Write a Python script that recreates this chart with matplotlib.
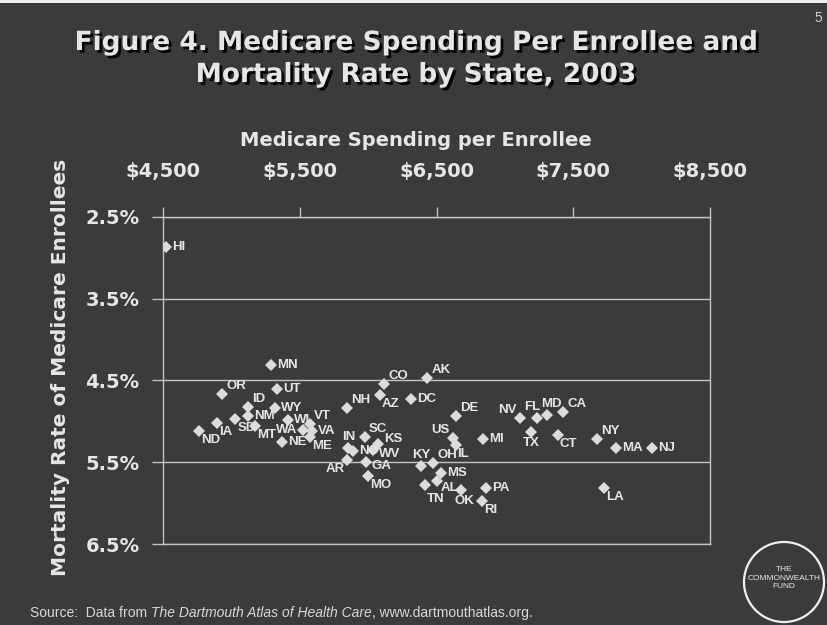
import matplotlib
matplotlib.use("Agg")
import matplotlib.pyplot as plt
import matplotlib.patheffects as pe
from matplotlib.patches import Circle, Rectangle

# Medicare spending per enrollee ($) and mortality rate (%) by state, 2003
states = ["HI", "MN", "OR", "UT", "ID", "WY", "NM", "SD", "IA", "ND",
          "MT", "WI", "WA", "VT", "VA", "NE", "ME", "NH", "CO", "AK",
          "AZ", "DC", "IN", "NC", "SC", "KS", "WV", "GA", "AR", "MO",
          "DE", "US", "IL", "MI", "KY", "OH", "MS", "AL", "TN", "OK",
          "PA", "RI", "NV", "FL", "MD", "CA", "TX", "CT", "NY", "MA",
          "NJ", "LA"]
spending = [4522, 5290, 4934, 5336, 5122, 5319, 5119, 5029, 4893, 4763,
            5176, 5412, 5526, 5575, 5590, 5368, 5575, 5848, 6118, 6433,
            6085, 6316, 5855, 5889, 5977, 6074, 6038, 5984, 5848, 6001,
            6643, 6621, 6639, 6842, 6389, 6477, 6534, 6504, 6417, 6681,
            6864, 6833, 7113, 7233, 7310, 7427, 7193, 7388, 7671, 7813,
            8078, 7725]
mortality = [2.87, 4.31, 4.67, 4.60, 4.82, 4.83, 4.93, 4.97, 5.02, 5.12,
             5.06, 4.98, 5.10, 5.03, 5.12, 5.25, 5.19, 4.84, 4.54, 4.47,
             4.68, 4.72, 5.33, 5.36, 5.19, 5.27, 5.35, 5.49, 5.47, 5.67,
             4.93, 5.20, 5.29, 5.22, 5.55, 5.51, 5.63, 5.73, 5.78, 5.84,
             5.81, 5.97, 4.96, 4.96, 4.92, 4.88, 5.13, 5.16, 5.21, 5.32,
             5.33, 5.81]

x_ticks = [4500, 5500, 6500, 7500, 8500]
y_ticks = [2.5, 3.5, 4.5, 5.5, 6.5]

# where each state label sits relative to its marker
label_side = {
    "OR": "ar", "ID": "ar", "SD": "br", "IA": "br", "ND": "br", "MT": "br",
    "WA": "l", "VT": "ar", "ME": "br", "NH": "ar", "CO": "ar", "AK": "ar",
    "AZ": "br", "IN": "a", "SC": "ar", "WV": "rd", "AR": "bl", "MO": "br",
    "DE": "ar", "US": "al", "IL": "br", "KY": "a", "OH": "ar", "AL": "bc",
    "TN": "bt", "OK": "bs", "RI": "br", "NV": "al", "FL": "as", "MD": "aw",
    "CA": "ar", "TX": "b", "CT": "br", "NY": "ar", "LA": "br", "GA": "rd",
    "KS": "ru",
}
side_offsets = {
    "r": ((6, 0), "left", "center"),
    "ru": ((6, 5), "left", "center"),
    "rd": ((6, -4), "left", "center"),
    "l": ((-6, 0), "right", "center"),
    "a": ((0, 5), "center", "bottom"),
    "as": ((-4, 5), "center", "bottom"),
    "aw": ((4, 5), "center", "bottom"),
    "b": ((0, -5), "center", "top"),
    "bs": ((3, -5), "center", "top"),
    "ar": ((4, 2), "left", "bottom"),
    "al": ((-4, 2), "right", "bottom"),
    "br": ((2, -3), "left", "top"),
    "bc": ((4, -1), "left", "top"),
    "bt": ((2, -8), "left", "top"),
    "bl": ((-3, -3), "right", "top"),
}

BG = "#3b3b3b"
FG = "#e6e6e6"
LINE = "#c4c4c4"

fig = plt.figure(figsize=(8.27, 6.25), dpi=100, facecolor=BG)
ax = fig.add_axes([163 / 827, 1 - 544.3 / 625, (710 - 163) / 827, (544.3 - 216.7) / 625])
ax.set_facecolor(BG)

ax.plot(spending, mortality, linestyle="none", marker="D", markersize=6.3,
        markerfacecolor="#dcdcdc", markeredgewidth=0, zorder=3)

for st, xv, yv in zip(states, spending, mortality):
    (dx, dy), ha, va = side_offsets[label_side.get(st, "r")]
    ax.annotate(st, (xv, yv), xytext=(dx, dy), textcoords="offset pixels",
                ha=ha, va=va, color=FG, fontsize=9.5, fontweight="bold",
                family="Liberation Sans", zorder=4)

ax.set_xlim(x_ticks[0], x_ticks[-1])
ax.set_ylim(y_ticks[-1], y_ticks[0])
ax.xaxis.tick_top()
ax.set_xticks(x_ticks)
ax.set_xticklabels([f"${v:,}" for v in x_ticks])
ax.set_yticks(y_ticks)
ax.set_yticklabels([f"{v:.1f}%" for v in y_ticks])
ax.tick_params(axis="x", colors=LINE, labelcolor=FG, labelsize=14, length=7,
               width=1, pad=19, direction="out")
ax.tick_params(axis="y", colors=LINE, labelcolor=FG, labelsize=14, length=8,
               width=1, pad=9, direction="out")
for lbl in ax.get_xticklabels() + ax.get_yticklabels():
    lbl.set_fontweight("bold")

ax.grid(axis="y", color=LINE, linewidth=1)
ax.set_axisbelow(True)
for sp in ax.spines.values():
    sp.set_color(LINE)
    sp.set_linewidth(1)

# titles and axis names
shadow = [pe.withSimplePatchShadow(offset=(2, -2), shadow_rgbFace="black", alpha=0.9)]
fig.text(416 / 827, 1 - 43 / 625, "Figure 4. Medicare Spending Per Enrollee and",
         ha="center", va="center", color=FG, fontsize=19, fontweight="bold",
         path_effects=shadow)
fig.text(416 / 827, 1 - 75 / 625, "Mortality Rate by State, 2003",
         ha="center", va="center", color=FG, fontsize=19, fontweight="bold",
         path_effects=shadow)
fig.text(416 / 827, 1 - 140 / 625, "Medicare Spending per Enrollee",
         ha="center", va="center", color=FG, fontsize=14, fontweight="bold")
fig.text(60 / 827, 1 - 367 / 625, "Mortality Rate of Medicare Enrollees",
         ha="center", va="center", rotation=90, color=FG, fontsize=14.5,
         fontweight="bold")

# source line, with the atlas name in italics
src_y = 1 - 617 / 625
src_kw = dict(color="#d8d8d8", fontsize=10, family="Liberation Sans", va="baseline")
t1 = fig.text(30 / 827, src_y, "Source:  Data from ", **src_kw)
t2 = fig.text(0, 0, "The Dartmouth Atlas of Health Care", style="italic", **src_kw)
t3 = fig.text(0, 0, ", www.dartmouthatlas.org.", **src_kw)
fig.canvas.draw()
r = fig.canvas.get_renderer()
inv = fig.transFigure.inverted()
x2 = inv.transform((t1.get_window_extent(r).x1, 0))[0]
t2.set_position((x2, src_y))
fig.canvas.draw()
x3 = inv.transform((t2.get_window_extent(r).x1, 0))[0]
t3.set_position((x3, src_y))

fig.text(818 / 827, 1 - 18 / 625, "5", ha="center", va="center",
         color="#d0d0d0", fontsize=10, family="Liberation Sans")

# fund logo
fig.add_artist(Circle((7.84, 0.43), 0.40, transform=fig.dpi_scale_trans,
                      facecolor="none", edgecolor="#f0f0f0", linewidth=1.6))
fig.text(784 / 827, 1 - 578 / 625, "THE\nCOMMONWEALTH\nFUND", ha="center",
         va="center", color="#e8e8e8", fontsize=6, family="Liberation Sans",
         linespacing=1.25)

# pale strip along the top edge of the slide
fig.add_artist(Rectangle((0, 1 - 3 / 625), 1, 3 / 625, transform=fig.transFigure,
                         facecolor="#eeeeee", edgecolor="none"))

fig.savefig("out.png", dpi=100, facecolor=BG)
